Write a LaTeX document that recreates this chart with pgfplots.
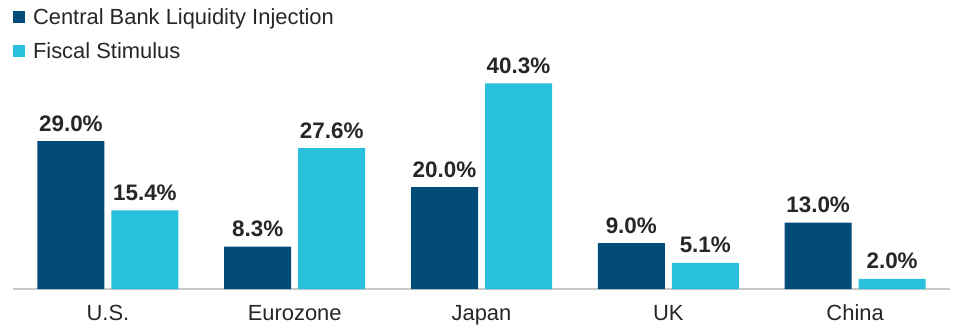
\documentclass[border=0pt]{standalone}
\usepackage{fontspec}
\setmainfont{Liberation Sans}
\usepackage{pgfplots}
\pgfplotsset{compat=1.18}
\definecolor{navy}{HTML}{034B78}
\definecolor{cyanb}{HTML}{29C0DC}
\definecolor{axisgray}{HTML}{C8C8C8}
\definecolor{txt}{HTML}{262626}
\begin{document}
\begin{tikzpicture}[x=1bp,y=1bp]
\useasboundingbox (-13,-46) rectangle (947,289);
\begin{axis}[
  at={(0,0)}, anchor=south west,
  scale only axis, width=937bp, height=289bp,
  xmin=-0.508, xmax=4.508, ymin=0, ymax=56.67,
  axis x line*=bottom, axis y line=none,
  x axis line style={axisgray, line width=1.5bp, -},
  xtick={0,1,2,3,4}, xticklabels={U.S.,Eurozone,Japan,UK,China},
  major tick length=0pt,
  ytick=\empty,
  /pgf/number format/assume math mode=true,
  xticklabel style={font=\fontsize{22}{22}\selectfont, text=txt, inner sep=0pt, anchor=base, yshift=-31bp},
  ybar, bar width=67bp,
  nodes near coords={\pgfmathprintnumber[fixed,fixed zerofill,precision=1,assume math mode=true]{\pgfplotspointmeta}\%},
  nodes near coords style={font=\bfseries\fontsize{22.5}{22.5}\selectfont, text=txt, inner sep=0pt, anchor=base, yshift=10bp},
  legend style={at={(0,1)}, anchor=north west, draw=none, fill=none, inner sep=0pt, outer sep=0pt,
     xshift=0bp, yshift=-8.5bp, row sep=14bp,
     nodes={inner sep=0pt, text height=16bp, text depth=4bp, text=txt},
     font=\fontsize{22}{22}\selectfont,
     /tikz/every odd column/.append style={column sep=8bp}},
  legend cell align=left,
  legend image code/.code={\path (0bp,0bp) rectangle (12bp,0bp); \fill[#1, overlay] (0bp,-4.5bp) rectangle (12bp,7.5bp);},
]
\addplot[fill=navy, draw=none, bar shift=-37bp] coordinates {(0,29.0) (1,8.3) (2,20.0) (3,9.0) (4,13.0)};
\addplot[fill=cyanb, draw=none, bar shift=37bp] coordinates {(0,15.4) (1,27.6) (2,40.3) (3,5.1) (4,2.0)};
\legend{Central Bank Liquidity Injection, Fiscal Stimulus}
\end{axis}
\end{tikzpicture}
\end{document}
